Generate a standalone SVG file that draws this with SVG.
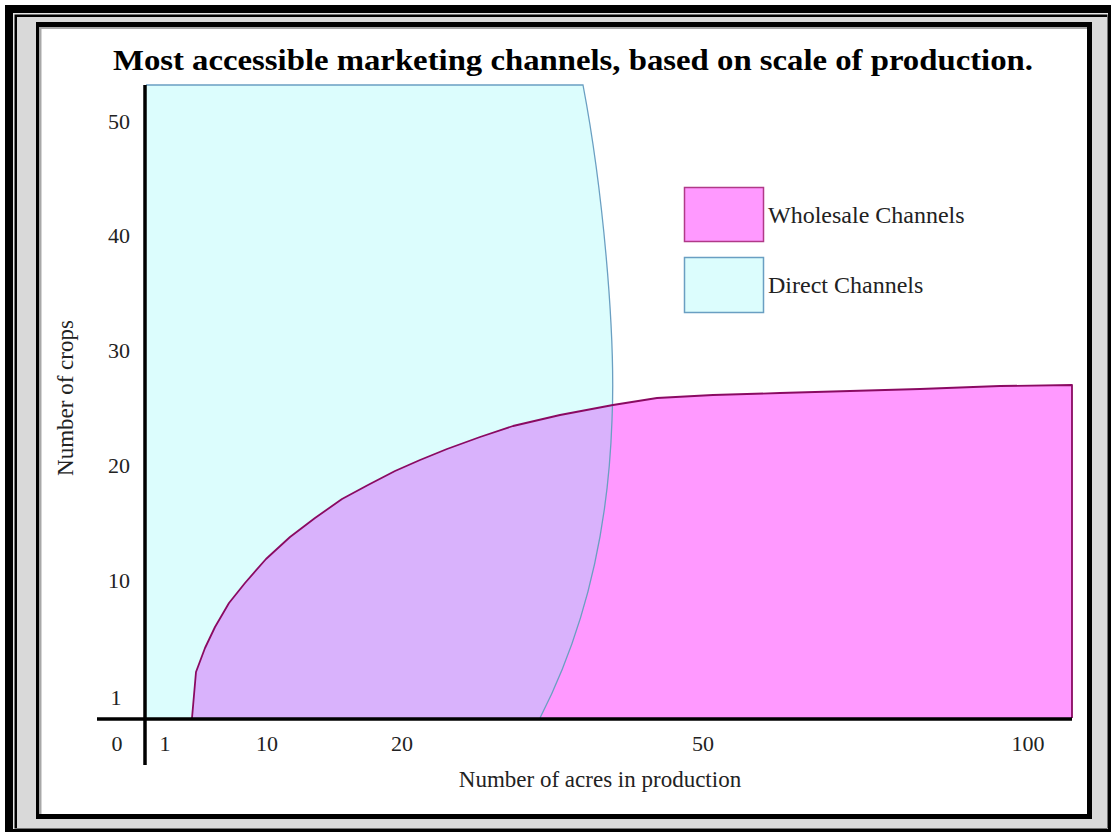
<svg xmlns="http://www.w3.org/2000/svg" width="1111" height="832" viewBox="0 0 1111 832">
<style>
.tick{font-family:"Liberation Serif","Times New Roman",serif;font-size:22px;fill:#222}
.lbl{font-family:"Liberation Serif","Times New Roman",serif;font-size:23px;fill:#222}
.leg{font-family:"Liberation Serif","Times New Roman",serif;font-size:24px;fill:#222}
.title{font-family:"Liberation Serif","Times New Roman",serif;font-size:30px;font-weight:bold;fill:#000}
</style>
<defs>
<clipPath id="directClip">
<path d="M146,85 L583,85 C602,185 616,330 612,420 C608,540 580,640 540,718 L146,718 Z"/>
</clipPath>
</defs>
<g id="frame">
<rect x="0" y="0" width="1111" height="832" fill="#fff"/>
<rect x="5" y="5" width="1106" height="827" fill="#000"/>
<rect x="13" y="13" width="1095" height="816" fill="#e6e6e6"/>
<rect x="14.5" y="14.5" width="1093" height="814" fill="#000"/>
<rect x="17" y="17" width="1090" height="811" fill="#d9d9d9"/>
<rect x="36" y="22" width="1056" height="797" fill="#000"/>
<rect x="39" y="27" width="1048" height="787" fill="#a8a8a8"/>
<rect x="41.5" y="29" width="1045.5" height="785" fill="#fff"/>
</g>
<g id="title">
<text class="title" x="113" y="70" textLength="920" lengthAdjust="spacingAndGlyphs">Most accessible marketing channels, based on scale of production.</text>
</g>
<g id="direct-region">
<path d="M146,85 L583,85 C602,185 616,330 612,420 C608,540 580,640 540,718 L146,718 Z" fill="#dcfdfd" stroke="none"/>
</g>
<g id="wholesale-region">
<path id="wpath" d="M192,718 L196,672 L205,648 L215,627 L229,603 L245,583 L266,559 L290,537 L315,518 L342,499 L368,485 L395,471 L420,460 L447,449 L480,437 L513,426 L560,415 L613,405 L657,398 L713,395 L780,393 L850,391 L920,389 L1000,386 L1072,385 L1072,718 Z" fill="#ff99ff" stroke="none"/>
<path d="M192,718 L196,672 L205,648 L215,627 L229,603 L245,583 L266,559 L290,537 L315,518 L342,499 L368,485 L395,471 L420,460 L447,449 L480,437 L513,426 L560,415 L613,405 L657,398 L713,395 L780,393 L850,391 L920,389 L1000,386 L1072,385 L1072,718 Z" fill="#d9b2fc" stroke="none" clip-path="url(#directClip)"/>
</g>
<g id="outlines">
<path d="M146,85 L583,85 C602,185 616,330 612,420 C608,540 580,640 540,718" fill="none" stroke="#6a9fc2" stroke-width="1.3"/>
<path d="M192,718 L196,672 L205,648 L215,627 L229,603 L245,583 L266,559 L290,537 L315,518 L342,499 L368,485 L395,471 L420,460 L447,449 L480,437 L513,426 L560,415 L613,405 L657,398 L713,395 L780,393 L850,391 L920,389 L1000,386 L1072,385 L1072,718" fill="none" stroke="#8a0a62" stroke-width="1.8" stroke-linejoin="round"/>
</g>
<g id="connectors">
<line x1="145" y1="85" x2="145" y2="765" stroke="#000" stroke-width="3.5"/>
<line x1="97" y1="719" x2="1072" y2="719" stroke="#000" stroke-width="3.5"/>
</g>
<g id="y-ticks">
<text class="tick" x="119" y="129" text-anchor="middle">50</text>
<text class="tick" x="119" y="243" text-anchor="middle">40</text>
<text class="tick" x="119" y="358" text-anchor="middle">30</text>
<text class="tick" x="119" y="473" text-anchor="middle">20</text>
<text class="tick" x="119" y="588" text-anchor="middle">10</text>
<text class="tick" x="116" y="705" text-anchor="middle">1</text>
</g>
<g id="x-ticks">
<text class="tick" x="117" y="751" text-anchor="middle">0</text>
<text class="tick" x="165" y="751" text-anchor="middle">1</text>
<text class="tick" x="267" y="751" text-anchor="middle">10</text>
<text class="tick" x="402" y="751" text-anchor="middle">20</text>
<text class="tick" x="703" y="751" text-anchor="middle">50</text>
<text class="tick" x="1028" y="751" text-anchor="middle">100</text>
</g>
<g id="axis-labels">
<text class="lbl" x="600" y="787" text-anchor="middle">Number of acres in production</text>
<text class="lbl" transform="translate(73,398) rotate(-90)" text-anchor="middle">Number of crops</text>
</g>
<g id="legend">
<g id="legend-wholesale">
<rect x="684.5" y="187.5" width="79" height="54" fill="#ff99ff" stroke="#b03a88" stroke-width="1.5"/>
<text class="leg" x="768" y="223">Wholesale Channels</text>
</g>
<g id="legend-direct">
<rect x="684.5" y="257.5" width="79" height="55" fill="#dcfdfd" stroke="#6a9fc2" stroke-width="1.5"/>
<text class="leg" x="768" y="293">Direct Channels</text>
</g>
</g>
</svg>
